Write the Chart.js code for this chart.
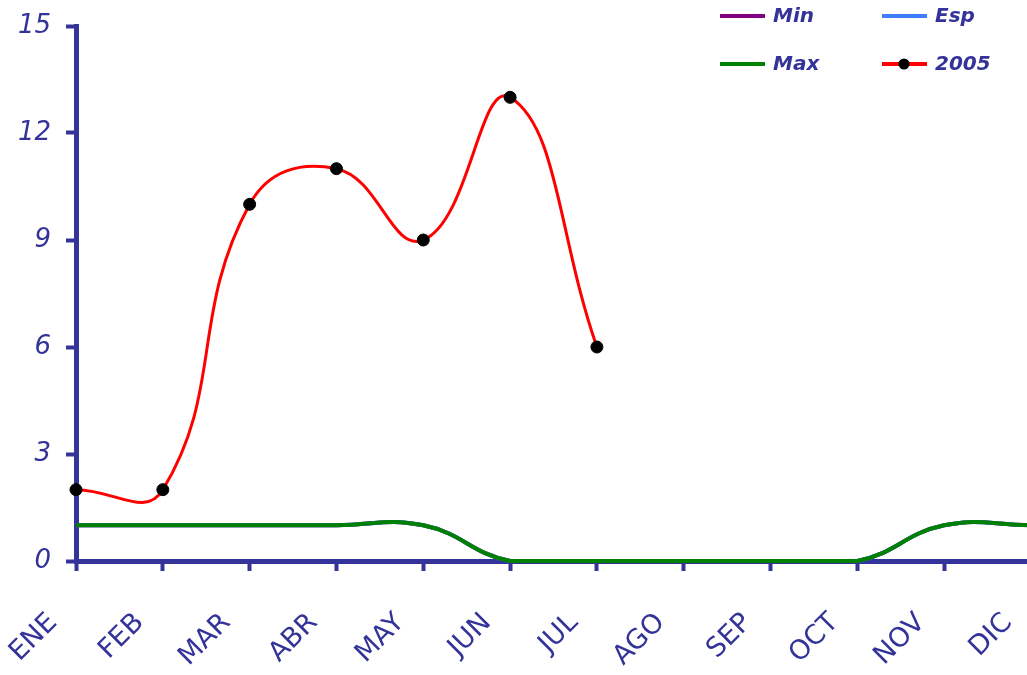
<!DOCTYPE html>
<html>
<head>
<meta charset="utf-8">
<script src="https://cdn.jsdelivr.net/npm/chart.js@4/dist/chart.umd.min.js"></script>
<style>
  html, body { margin: 0; padding: 0; background: #fff; }
  #frame { width: 1027px; height: 675px; overflow: hidden; position: relative; }
  #wrap { width: 1040px; height: 675px; position: absolute; left: 0; top: 0; }
</style>
</head>
<body>
<div id="frame"><div id="wrap"><canvas id="chart"></canvas></div></div>
<script>
// months on the x axis
const months = ["ENE", "FEB", "MAR", "ABR", "MAY", "JUN", "JUL", "AGO", "SEP", "OCT", "NOV", "DIC"];

// series
const minValues = [1, 1, 1, 1, 1, 0, 0, 0, 0, 0, 1, 1];
const espValues = [1, 1, 1, 1, 1, 0, 0, 0, 0, 0, 1, 1];
const maxValues = [1, 1, 1, 1, 1, 0, 0, 0, 0, 0, 1, 1];
const values2005 = [2, 2, 10, 11, 9, 13, 6];

// y ticks
const yTicks = [0, 3, 6, 9, 12, 15];

const AXIS = "#333399";
const FONT = "'Comic Sans MS', 'DejaVu Sans', sans-serif";

// legend in two columns, top right
const legendBox = {
  id: "legendBox",
  afterDraw(chart) {
    const ctx = chart.ctx;
    const items = [
      { ds: 0, x: 720, y: 16 },
      { ds: 1, x: 882, y: 16 },
      { ds: 2, x: 720, y: 64 },
      { ds: 3, x: 882, y: 64 }
    ];
    ctx.save();
    items.forEach(it => {
      const ds = chart.data.datasets[it.ds];
      ctx.strokeStyle = ds.borderColor;
      ctx.lineWidth = 4;
      ctx.beginPath();
      ctx.moveTo(it.x, it.y);
      ctx.lineTo(it.x + 45, it.y);
      ctx.stroke();
      if (ds.pointRadius > 0) {
        ctx.fillStyle = "#000";
        ctx.beginPath();
        ctx.arc(it.x + 22, it.y, 5.5, 0, Math.PI * 2);
        ctx.fill();
      }
      ctx.fillStyle = AXIS;
      ctx.font = "italic bold 20px " + FONT;
      ctx.textBaseline = "middle";
      ctx.fillText(ds.label, it.x + 53, it.y + 1);
    });
    ctx.restore();
  }
};

new Chart(document.getElementById("chart"), {
  type: "line",
  data: {
    labels: months,
    datasets: [
      { label: "Min", data: minValues, borderColor: "#800080", borderWidth: 4, pointRadius: 0, order: 3 },
      { label: "Esp", data: espValues, borderColor: "#3f7fff", borderWidth: 4, pointRadius: 0, order: 2 },
      { label: "Max", data: maxValues, borderColor: "#008000", borderWidth: 4, pointRadius: 0, order: 1 },
      {
        label: "2005", data: values2005, borderColor: "#ff0000", borderWidth: 3,
        pointRadius: 6, pointBackgroundColor: "#000", pointBorderColor: "#000", pointBorderWidth: 1,
        order: 0
      }
    ]
  },
  options: {
    responsive: true,
    maintainAspectRatio: false,
    animation: false,
    layout: { padding: { top: 26, right: 9, left: 0, bottom: 0 } },
    elements: { line: { tension: 0.45, fill: false } },
    clip: false,
    plugins: { legend: { display: false }, tooltip: { enabled: false } },
    scales: {
      x: {
        type: "category",
        offset: false,
        border: { display: true, color: AXIS, width: 5 },
        grid: { drawOnChartArea: false, drawTicks: true, tickLength: 10, tickColor: AXIS, tickWidth: 4 },
        ticks: {
          color: AXIS,
          font: { family: FONT, size: 27 },
          minRotation: 45, maxRotation: 45,
          autoSkip: false,
          padding: 36,
          labelOffset: -23
        },
        afterFit(scale) {
          scale.height = 114;
          scale.paddingLeft = 0;
          scale.paddingRight = 0;
        }
      },
      y: {
        min: 0, max: 15,
        afterBuildTicks(scale) { scale.ticks = yTicks.map(v => ({ value: v })); },
        border: { display: true, color: AXIS, width: 5 },
        grid: { drawOnChartArea: false, drawTicks: true, tickLength: 10, tickColor: AXIS, tickWidth: 4 },
        ticks: {
          color: AXIS,
          font: { family: FONT, size: 26, style: "italic" },
          padding: 15
        },
        afterFit(scale) {
          scale.width = 76;
          scale.paddingTop = 0;
          scale.paddingBottom = 0;
        }
      }
    }
  },
  plugins: [legendBox]
});
</script>
</body>
</html>
